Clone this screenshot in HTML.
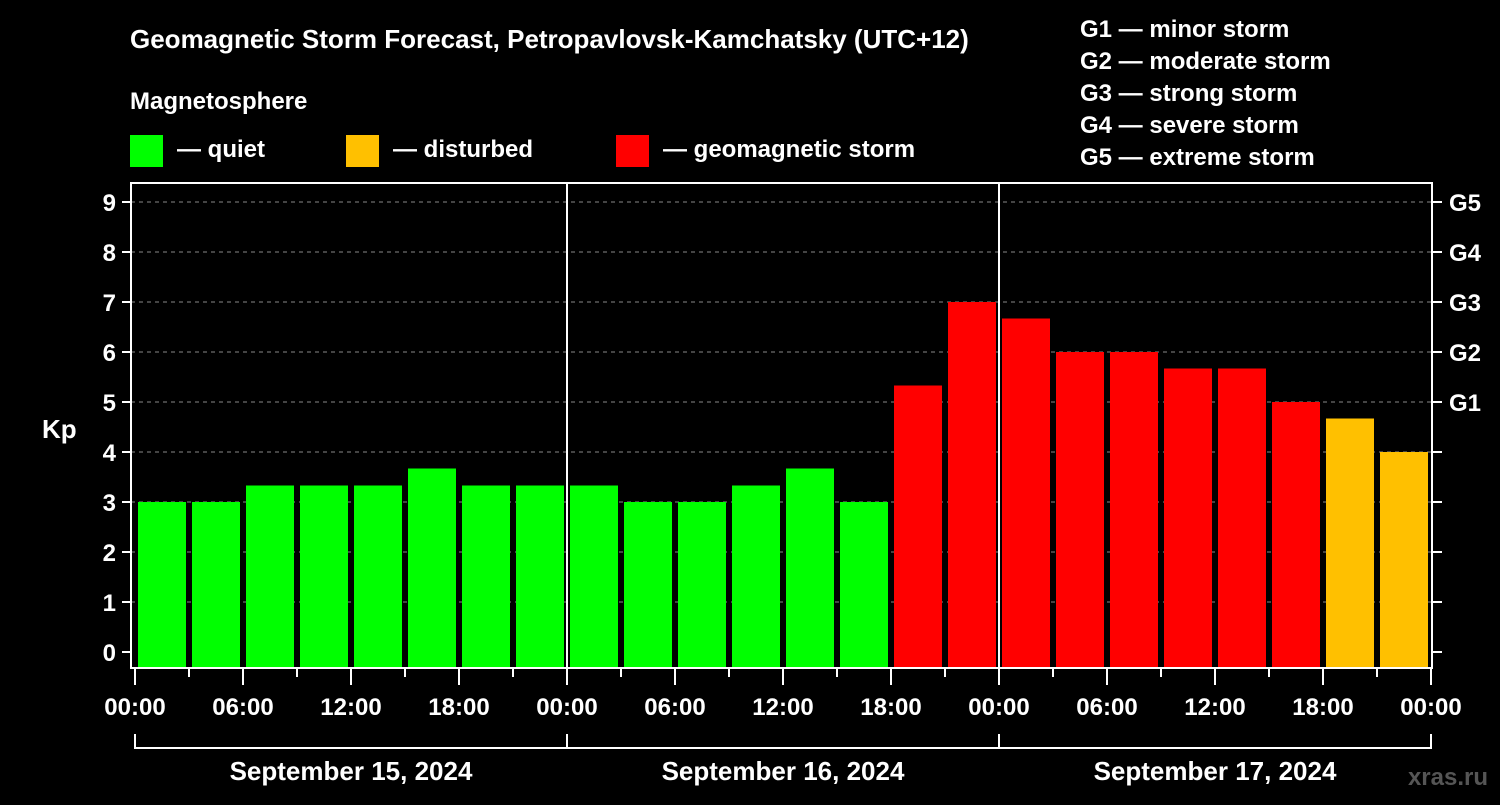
<!DOCTYPE html>
<html><head><meta charset="utf-8"><style>
body{margin:0;background:#000;width:1500px;height:800px;overflow:hidden}
svg text{font-family:"Liberation Sans",sans-serif;font-weight:bold;fill:#fff}
</style></head><body>
<svg id="c" width="1500" height="800">
<text x="130" y="48" font-size="26">Geomagnetic Storm Forecast, Petropavlovsk-Kamchatsky (UTC+12)</text>
<text x="130" y="109" font-size="24">Magnetosphere</text>
<rect x="130" y="135" width="33" height="32" fill="#00ff00"/>
<text x="177" y="157" font-size="24">— quiet</text>
<rect x="346" y="135" width="33" height="32" fill="#ffc000"/>
<text x="393" y="157" font-size="24">— disturbed</text>
<rect x="616" y="135" width="33" height="32" fill="#ff0000"/>
<text x="663" y="157" font-size="24">— geomagnetic storm</text>
<g font-size="24">
<text x="1080" y="37">G1 — minor storm</text>
<text x="1080" y="69">G2 — moderate storm</text>
<text x="1080" y="101">G3 — strong storm</text>
<text x="1080" y="133">G4 — severe storm</text>
<text x="1080" y="165">G5 — extreme storm</text>
</g>
<text x="42" y="438" font-size="26">Kp</text>
<text x="1488" y="785" font-size="24" fill="#666" style="fill:#555" text-anchor="end">xras.ru</text>
<g id="grid"></g><g id="bars"></g><g id="axes"></g>
</svg>
<script>
const values=[3,3,3.33,3.33,3.33,3.67,3.33,3.33, 3.33,3,3,3.33,3.67,3,5.33,7, 6.67,6,6,5.67,5.67,5,4.67,4];
const days=["September 15, 2024","September 16, 2024","September 17, 2024"];
const timeLabels=["00:00","06:00","12:00","18:00"];
const kpTicks=[0,1,2,3,4,5,6,7,8,9];
const gLabels={5:"G1",6:"G2",7:"G3",8:"G4",9:"G5"};
const NS="http://www.w3.org/2000/svg";
const X0=135,SLOT=54,L=131,R=1432,T=183,B=668;
const y=v=>652-50*v, x=i=>X0+i*SLOT;
function mk(p,tag,a,txt){const e=document.createElementNS(NS,tag);for(const k in a)e.setAttribute(k,a[k]);if(txt!=null)e.textContent=txt;document.getElementById(p).appendChild(e);return e;}
kpTicks.forEach(k=>{
 if(k>0){const g=mk('grid','line',{x1:L,x2:R,y1:y(k),y2:y(k),stroke:'#888','stroke-dasharray':'4 4'});
 
 }
 const t=mk('axes','line',{x1:122,x2:L,y1:y(k),y2:y(k),stroke:'#fff','stroke-width':2});
 
 
 const t2=mk('axes','line',{x1:R,x2:1442,y1:y(k),y2:y(k),stroke:'#fff','stroke-width':2});
 
 
 const l=mk('axes','text',{x:116,y:y(k)+9,'font-size':24,'text-anchor':'end'},k);
 
 
 if(gLabels[k]){const g=mk('axes','text',{x:1449,y:y(k)+9,'font-size':24},gLabels[k]);
 
 }
});
values.forEach((v,i)=>{
 const c=v>=5?'#ff0000':(v>=4?'#ffc000':'#00ff00');
 const r=mk('bars','rect',{x:x(i)+3,y:y(v),width:48,height:B-y(v),fill:c});
 
 
});
const f=mk('axes','rect',{x:L,y:T,width:R-L,height:B-T,fill:'none',stroke:'#fff','stroke-width':2});


for(let i=0;i<=24;i++){
 const major=i%2==0;
 const t=mk('axes','line',{x1:x(i),x2:x(i),y1:B,y2:B+(major?17:9),stroke:'#fff','stroke-width':2});
 
 
 if(major){const l=mk('axes','text',{x:x(i),y:715,'font-size':24,'text-anchor':'middle'},timeLabels[(i/2)%4]);
 
 }
}
days.forEach((d,j)=>{
 const a=x(j*8),b=x(j*8+8);
 if(j>0){const s=mk('axes','line',{x1:a,x2:a,y1:T,y2:B,stroke:'#fff','stroke-width':2});
 
 }
 const br=mk('axes','path',{d:`M${a} 734V748H${b}V734`,fill:'none',stroke:'#fff','stroke-width':2});
 
 
 const l=mk('axes','text',{x:(a+b)/2,y:780,'font-size':26,'text-anchor':'middle'},d);
 
 
});
</script>
</body></html>
